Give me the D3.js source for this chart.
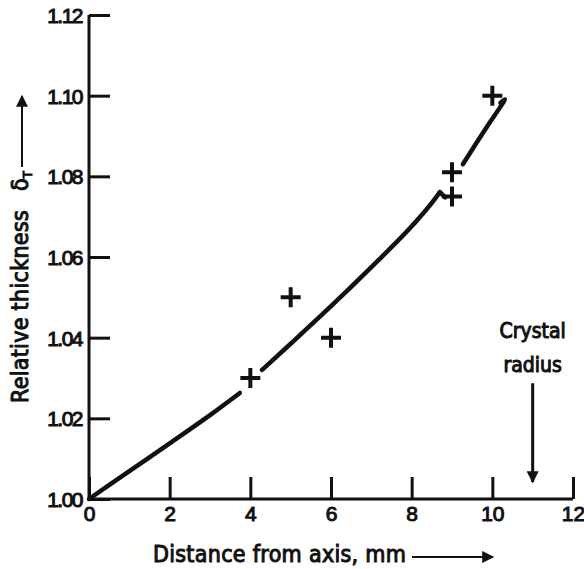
<!DOCTYPE html>
<html>

<head>
    <meta charset="utf-8">
    <style>
        body {
            margin: 0;
            background: #fff;
        }

        svg {
            font-family: 'DejaVu Sans Condensed', 'DejaVu Sans', sans-serif;
        }

        .lbl {
            fill: #111;
            stroke: #111;
            stroke-width: 1px;
        }

        .axis .domain {
            display: none;
        }

        .axis .tick line {
            stroke: #111;
            stroke-width: 3px;
        }

        .axis .tick text {
            fill: #111;
            stroke: #111;
            stroke-width: 1px;
            font-size: 21px;
        }

        .y .tick text {
            letter-spacing: -1.5px;
        }
    </style>
</head>

<body>
    <svg width="584" height="569"></svg>
</body>

<script src="https://d3js.org/d3.v7.min.js"></script>

<script>
    // axis ticks
    let xTicks = [0, 2, 4, 6, 8, 10, 12]
    let yTicks = [1.00, 1.02, 1.04, 1.06, 1.08, 1.10, 1.12]

    // measured points (+)
    let pointX = [4, 5, 6, 9, 9, 10]
    let pointY = [1.030, 1.050, 1.040, 1.081, 1.075, 1.100]

    // fitted curve, drawn in pieces (broken at the markers)
    let curveLow = [[0, 1.000], [1, 1.0069], [2, 1.0138], [3, 1.0208], [3.74, 1.0263]]
    let curveMid = [[4.29, 1.032], [5, 1.0385], [6, 1.0478], [7, 1.0575], [8, 1.0676], [8.46, 1.0729], [8.7, 1.0761]]
    let curveJog = [[8.7, 1.0761], [8.83, 1.0748]]
    let curveTop = [[9.27, 1.083], [9.62, 1.0885], [9.94, 1.0934], [10.19, 1.0971], [10.31, 1.0991], [10.2, 1.0982]]

    let crystalRadius = 11

    let width = 584
    let height = 569
    let margin = { top: 15, right: 11, bottom: 70, left: 89 }

    let svg = d3.select("svg")

    let x = d3.scaleLinear()
        .domain([0, 12])
        .range([margin.left, width - margin.right])

    let y = d3.scaleLinear()
        .domain([1.00, 1.12])
        .range([height - margin.bottom, margin.top])

    // ticks point inward
    let yAxisSettings = d3.axisLeft(y)
        .tickValues(yTicks)
        .tickSize(-21)
        .tickPadding(7)
        .tickFormat(d3.format(".2f"))

    let xAxisSettings = d3.axisBottom(x)
        .tickValues(xTicks)
        .tickSize(-22)
        .tickPadding(7)
        .tickFormat(d3.format("d"))

    svg.append("g")
        .attr("class", "y axis")
        .attr("transform", `translate(${margin.left},0)`)
        .call(yAxisSettings)
        .selectAll(".tick text")
        .attr("dy", "0.36em")

    svg.append("g")
        .attr("class", "x axis")
        .attr("transform", `translate(0,${height - margin.bottom})`)
        .call(xAxisSettings)

    // L shaped frame
    svg.append("path")
        .attr("d", `M${x(0)},${y(1.12)}V${y(1.00)}H${x(12)}`)
        .style("fill", "none")
        .style("stroke", "#111")
        .style("stroke-width", "3px")

    // curve
    let smooth = d3.line()
        .x(d => x(d[0]))
        .y(d => y(d[1]))
        .curve(d3.curveMonotoneX)

    let hook = d3.line()
        .x(d => x(d[0]))
        .y(d => y(d[1]))
        .curve(d3.curveCatmullRom.alpha(0.5))

    let straight = d3.line()
        .x(d => x(d[0]))
        .y(d => y(d[1]))

    let curveStyle = function (sel) {
        sel.style("fill", "none")
            .style("stroke", "#111")
            .style("stroke-width", "4.5px")
            .style("stroke-linecap", "round")
            .style("stroke-linejoin", "round")
    }

    svg.append("path").attr("d", smooth(curveLow)).call(curveStyle)
    svg.append("path").attr("d", smooth(curveMid)).call(curveStyle)
    svg.append("path").attr("d", straight(curveJog)).call(curveStyle)
    svg.append("path").attr("d", hook(curveTop)).call(curveStyle)

    // plus markers
    let points = pointX.map((d, i) => [d, pointY[i]])
    svg.append("g")
        .selectAll("path")
        .data(points)
        .join("path")
        .attr("d", d => `M${x(d[0]) - 10},${y(d[1])}h20M${x(d[0])},${y(d[1]) - 10}v20`)
        .style("fill", "none")
        .style("stroke", "#111")
        .style("stroke-width", "4px")

    // arrow heads
    let defs = svg.append("defs")
    defs.append("marker")
        .attr("id", "head")
        .attr("viewBox", "0 0 10 10")
        .attr("refX", 9)
        .attr("refY", 5)
        .attr("markerUnits", "userSpaceOnUse")
        .attr("markerWidth", 15)
        .attr("markerHeight", 12)
        .attr("orient", "auto")
        .append("path")
        .attr("d", "M0,0L10,5L0,10Z")
        .style("fill", "#111")

    // crystal radius annotation
    svg.append("line")
        .attr("x1", x(crystalRadius))
        .attr("x2", x(crystalRadius))
        .attr("y1", y(1.0287))
        .attr("y2", y(1.0042))
        .style("stroke", "#111")
        .style("stroke-width", "3px")
        .attr("marker-end", "url(#head)")

    svg.append("text")
        .attr("class", "lbl")
        .attr("x", x(crystalRadius))
        .attr("y", 338)
        .style("text-anchor", "middle")
        .style("font-size", "21px")
        .text("Crystal")

    svg.append("text")
        .attr("class", "lbl")
        .attr("x", x(crystalRadius))
        .attr("y", 372)
        .style("text-anchor", "middle")
        .style("font-size", "21px")
        .text("radius")

    // x axis label with arrow
    svg.append("text")
        .attr("class", "lbl")
        .attr("x", 153)
        .attr("y", 562)
        .style("font-size", "23px")
        .style("letter-spacing", "0.3px")
        .text("Distance from axis, mm")

    svg.append("line")
        .attr("x1", 412)
        .attr("x2", 493)
        .attr("y1", 557)
        .attr("y2", 557)
        .style("stroke", "#111")
        .style("stroke-width", "2px")
        .attr("marker-end", "url(#head)")

    // y axis label with arrow (rotated frame starts at the bottom)
    let ylabel = svg.append("g")
        .attr("transform", "translate(28,403) rotate(-90)")

    ylabel.append("text")
        .attr("class", "lbl")
        .style("font-size", "23px")
        .style("letter-spacing", "0.3px")
        .text("Relative thickness")

    let delta = ylabel.append("text")
        .attr("class", "lbl")
        .attr("x", 212)
        .style("font-size", "23px")

    delta.append("tspan").text("δ")
    delta.append("tspan")
        .attr("dy", "0.3em")
        .style("font-size", "13px")
        .text("T")

    svg.append("line")
        .attr("x1", 22)
        .attr("x2", 22)
        .attr("y1", 167)
        .attr("y2", 96)
        .style("stroke", "#111")
        .style("stroke-width", "2px")
        .attr("marker-end", "url(#head)")
</script>

</html>
